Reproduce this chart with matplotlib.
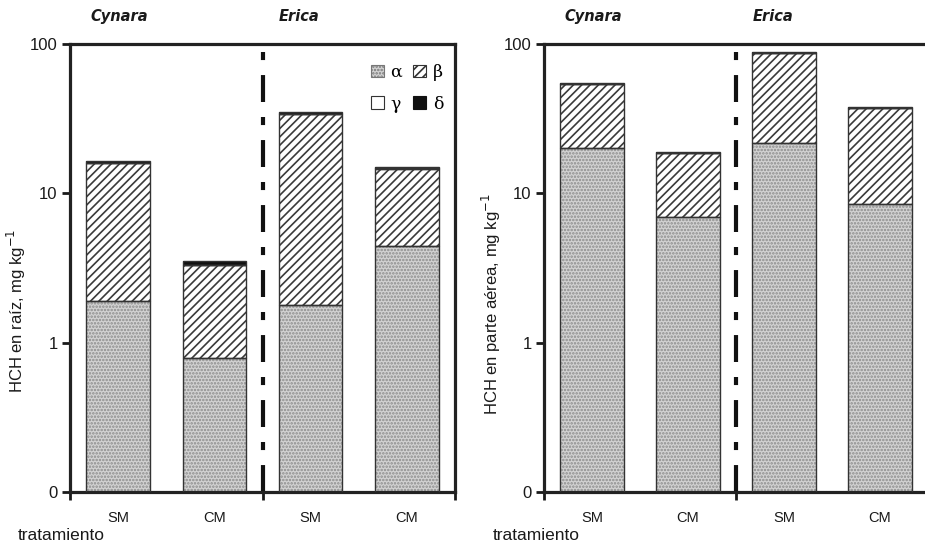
import matplotlib
matplotlib.use("Agg")
import matplotlib.pyplot as plt
from matplotlib.patches import Patch
from matplotlib.ticker import FixedLocator, FixedFormatter, NullFormatter

plt.rcParams['font.family'] = ['Liberation Sans', 'DejaVu Sans']
plt.rcParams['hatch.linewidth'] = 1.2
plt.rcParams['lines.scale_dashes'] = False

# data
treatments = ["SM", "CM", "SM", "CM"]
species = ["Cynara", "Erica"]

root_alpha = [1.91, 0.79, 1.80, 4.43]
root_beta = [14.0, 2.50, 32.0, 10.2]
root_gamma = [0.05, 0.03, 0.10, 0.05]
root_delta = [0.40, 0.18, 0.90, 0.35]

shoot_alpha = [20.1, 6.93, 21.8, 8.44]
shoot_beta = [33.5, 11.6, 65.0, 28.8]
shoot_gamma = [0.20, 0.10, 0.40, 0.20]
shoot_delta = [1.2, 0.3, 1.6, 0.5]

ylabels = ["HCH en raíz, mg kg$^{-1}$", "HCH en parte aérea, mg kg$^{-1}$"]

YMIN = 0.1
EDGE = "#333333"
TXT = "#1a1a1a"
styles = {
    "alpha": dict(facecolor="#d2d2d2", hatch=".....", hcolor="#8c8c8c"),
    "beta": dict(facecolor="white", hatch="////", hcolor="#3a3a3a"),
    "gamma": dict(facecolor="white", hatch="", hcolor=EDGE),
    "delta": dict(facecolor="#111111", hatch="", hcolor="#111111"),
}


def draw_panel(ax, alpha, beta, gamma, delta, ylabel, label_xy):
    x = [0.5, 1.5, 2.5, 3.5]
    w = 0.66
    bottom = [YMIN] * 4
    for key, vals in [("alpha", alpha), ("beta", beta), ("gamma", gamma), ("delta", delta)]:
        st = styles[key]
        tops = [b + v if b > YMIN else v for b, v in zip(bottom, vals)]
        heights = [t - b for t, b in zip(tops, bottom)]
        ax.bar(x, heights, w, bottom=bottom, color=st["facecolor"], hatch=st["hatch"],
               edgecolor=st["hcolor"], linewidth=0, zorder=2)
        ax.bar(x, heights, w, bottom=bottom, fill=False, edgecolor=EDGE, linewidth=1.0, zorder=3)
        bottom = tops

    ax.set_yscale("log")
    ax.set_ylim(YMIN, 100)
    ax.set_xlim(0, 4)
    ax.yaxis.set_major_locator(FixedLocator([0.1, 1, 10, 100]))
    ax.yaxis.set_major_formatter(FixedFormatter(["0", "1", "10", "100"]))
    ax.yaxis.set_minor_locator(FixedLocator([]))
    ax.tick_params(axis="y", which="major", length=6, width=2, labelsize=12, pad=3, colors=TXT)

    ax.xaxis.set_major_locator(FixedLocator([0, 2, 4]))
    ax.xaxis.set_major_formatter(NullFormatter())
    ax.xaxis.set_minor_locator(FixedLocator(x))
    ax.xaxis.set_minor_formatter(FixedFormatter(treatments))
    ax.tick_params(axis="x", which="major", length=6, width=2, colors=TXT)
    ax.tick_params(axis="x", which="minor", length=0, pad=14, labelsize=10.5, colors=TXT)

    for s in ax.spines.values():
        s.set_linewidth(2.3)
        s.set_color("#222222")

    ax.axvline(2, color="#111111", linewidth=3, linestyle=(0, (19.4, 10.8, 5.8, 10.8)), zorder=1)

    ax.set_ylabel(ylabel, fontsize=12, color=TXT)
    ax.yaxis.set_label_coords(*label_xy)

    ax.text(x[0] - w / 2 + 0.04, 1.045, species[0], transform=ax.get_xaxis_transform(),
            fontsize=10.5, fontweight="bold", style="italic", ha="left", va="bottom", color=TXT,
            family="DejaVu Sans")
    ax.text(x[2] - w / 2 + 0.0, 1.045, species[1], transform=ax.get_xaxis_transform(),
            fontsize=10.5, fontweight="bold", style="italic", ha="left", va="bottom", color=TXT,
            family="DejaVu Sans")


fig = plt.figure(figsize=(9.25, 5.45), dpi=100)
ax1 = fig.add_axes([70 / 925, 1 - 492 / 545, 385 / 925, 448 / 545])
ax2 = fig.add_axes([544 / 925, 1 - 492 / 545, 384 / 925, 448 / 545])

draw_panel(ax1, root_alpha, root_beta, root_gamma, root_delta, ylabels[0], (-0.11, 0.405))
draw_panel(ax2, shoot_alpha, shoot_beta, shoot_gamma, shoot_delta, ylabels[1], (-0.108, 0.42))

fig.text(18 / 925, 1 - 536 / 545, "tratamiento", fontsize=12.5, color=TXT, va="center", ha="left")
fig.text(493 / 925, 1 - 536 / 545, "tratamiento", fontsize=12.5, color=TXT, va="center", ha="left")

handles = [
    Patch(facecolor=styles["alpha"]["facecolor"], hatch=".....", edgecolor="#777777", linewidth=0.8),
    Patch(facecolor="white", edgecolor=EDGE, linewidth=0.8),
    Patch(facecolor="white", hatch="////", edgecolor="#333333", linewidth=0.8),
    Patch(facecolor="#111111", edgecolor="#111111", linewidth=0.8),
]
labels = ["α", "γ", "β", "δ"]
ax1.legend(handles, labels, ncol=2, loc="upper right", bbox_to_anchor=(1.01, 0.99), frameon=False,
           prop={"family": "DejaVu Serif", "size": 12.5}, handlelength=0.75, handleheight=0.75,
           handletextpad=0.4, columnspacing=0.6, labelspacing=0.85)

fig.savefig("out.png", dpi=100)
